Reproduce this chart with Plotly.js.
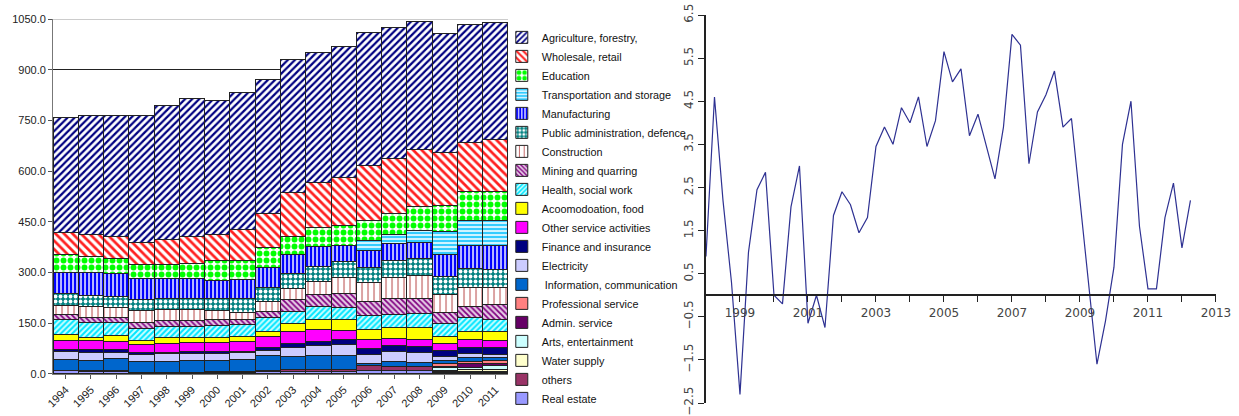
<!DOCTYPE html>
<html>
<head>
<meta charset="utf-8">
<script src="https://cdn.plot.ly/plotly-3.0.1.min.js"></script>
<style>
html, body {margin:0; padding:0; background:#fff;}
#chart {width:1239px; height:416px;}
</style>
</head>
<body>
<div id="chart"></div>
<script>
// years of the stacked bars
var years = ['1994','1995','1996','1997','1998','1999','2000','2001','2002','2003',
             '2004','2005','2006','2007','2008','2009','2010','2011'];

// sectors, bottom of the stack first
var realEstate    = [10,7,7,4,4,4,4,5,8,6,6,6,10,10,10,3,5,4];
var others        = [0,2,3,1,1,1,2,1,3,6,6,6,14,11,12,3,3,4];
var waterSupply   = [0,0,0,0,0,0,0,0,0,0,0,0,0,0,0,5,4,6];
var arts          = [0,0,0,0,0,0,0,0,0,0,0,0,0,0,0,7,8,10];
var adminService  = [0,0,0,0,0,0,0,0,0,0,0,0,0,0,0,4,10,6];
var professional  = [0,0,0,0,0,0,0,0,0,0,0,0,0,0,0,8,8,9];
var information   = [32,31,35,32,33,35,34,36,44,41,44,44,6,15,11,10,10,11];
var electricity   = [24,25,20,20,22,22,22,21,15,26,27,30,29,30,30,12,12,7];
var finance       = [6,7,7,7,5,5,4,4,8,12,13,15,17,19,18,16,18,21];
var otherService  = [28,26,25,23,26,26,27,28,32,34,36,29,27,20,20,21,23,21];
var accomodation  = [17,11,17,12,17,15,15,15,17,25,28,30,29,33,37,23,25,26];
var health        = [45,44,38,37,32,32,34,35,40,34,39,37,40,37,41,36,40,35];
var mining        = [15,15,14,16,18,18,18,15,18,35,35,40,42,47,45,35,34,47];
var construction  = [27,32,32,35,32,32,29,22,28,34,39,48,56,64,66,51,55,49];
var publicAdmin   = [33,33,32,32,32,32,33,42,42,45,44,49,46,49,52,55,58,54];
var manufacturing = [63,67,68,63,61,61,55,56,59,54,60,46,49,50,46,63,66,69];
var transport     = [0,0,0,0,0,0,0,0,0,0,0,0,31,28,35,69,74,76];
var education     = [52,48,45,42,42,44,58,57,60,56,57,58,59,62,72,76,86,84];
var wholesale     = [66,65,65,66,73,81,78,91,102,129,132,143,163,162,168,159,145,155];
var agriculture   = [340,353,358,374,395,406,397,404,394,392,384,389,392,388,379,351,351,345];

// quarterly growth, starting 1998 Q1
var startYear = 1998;
var growth = [0.9,4.6,2.2,0.3,-2.3,1.0,2.45,2.85,0.0,-0.2,2.05,3.0,-0.65,0.0,-0.75,1.85,
              2.4,2.1,1.45,1.8,3.45,3.9,3.5,4.35,4.0,4.6,3.45,4.05,5.65,4.95,5.25,3.7,
              4.2,3.45,2.7,3.9,6.05,5.8,3.05,4.25,4.65,5.2,3.9,4.1,2.2,0.3,-1.6,-0.6,
              0.65,3.5,4.5,1.6,0.15,0.15,1.8,2.6,1.1,2.2];
var lineYears = [1998,1999,2000,2001,2002,2003,2004,2005,2006,2007,2008,2009,2010,2011,2012,2013];
var lineLabels = ['','1999','','2001','','2003','','2005','','2007','','2009','','2011','','2013'];

function bar(name, vals, color, pat){
	var m = {color: color, line: {color: '#222', width: 1}};
	if(pat){
		m.pattern = pat;
	}
	return {
		type: 'bar',
		name: name,
		x: years,
		y: vals,
		marker: m,
		xaxis: 'x',
		yaxis: 'y'
	};
}

var data = [
	bar('Real estate', realEstate, '#9999ff'),
	bar('others', others, '#993366'),
	bar('Water supply', waterSupply, '#ffffcc'),
	bar('Arts, entertainment', arts, '#ccffff'),
	bar('Admin. service', adminService, '#660066'),
	bar('Professional service', professional, '#ff8080'),
	bar(' Information, communication', information, '#0066cc'),
	bar('Electricity', electricity, '#ccccff'),
	bar('Finance and insurance', finance, '#000080'),
	bar('Other service activities', otherService, '#ff00ff'),
	bar('Acoomodoation, food', accomodation, '#ffff00'),
	bar('Health, social work', health, '#ccffff',
		{shape: '/', fgcolor: '#00e5ff', bgcolor: '#ccffff', size: 4, solidity: 0.5}),
	bar('Mining and quarring', mining, '#cc99cc',
		{shape: '\\', fgcolor: '#800080', bgcolor: '#e6cce6', size: 4, solidity: 0.45}),
	bar('Construction', construction, '#ffffff',
		{shape: '|', fgcolor: '#b03030', bgcolor: '#ffffff', size: 6, solidity: 0.15}),
	bar('Public administration, defence', publicAdmin, '#008080',
		{shape: '.', fgcolor: '#ffffff', bgcolor: '#008080', size: 5, solidity: 0.45}),
	bar('Manufacturing', manufacturing, '#0000ff',
		{shape: '|', fgcolor: '#0000ff', bgcolor: '#ccccff', size: 4, solidity: 0.55}),
	bar('Transportation and storage', transport, '#33ccff',
		{shape: '-', fgcolor: '#33ccff', bgcolor: '#e0f8ff', size: 4, solidity: 0.55}),
	bar('Education', education, '#00ff00',
		{shape: '.', fgcolor: '#00ff00', bgcolor: '#ffffff', size: 7, solidity: 0.55}),
	bar('Wholesale, retail', wholesale, '#ff0000',
		{shape: '\\', fgcolor: '#ff2020', bgcolor: '#ffffff', size: 6, solidity: 0.45}),
	bar('Agriculture, forestry,', agriculture, '#000080',
		{shape: '/', fgcolor: '#000080', bgcolor: '#ffffff', size: 5, solidity: 0.45})
];

// growth line on the right
var quarters = [];
for(var i = 0; i < growth.length; i++){
	quarters.push(startYear + i / 4);
}
data.push({
	type: 'scatter',
	mode: 'lines',
	x: quarters,
	y: growth,
	line: {color: '#2e3192', width: 1.2},
	showlegend: false,
	xaxis: 'x2',
	yaxis: 'y2'
});

var tickFont = {family: 'Liberation Sans, Arial, sans-serif', size: 11, color: '#222'};
var rightFont = {family: 'DejaVu Sans, sans-serif', size: 12, color: '#444'};

var layout = {
	width: 1239,
	height: 416,
	margin: {l: 0, r: 0, t: 0, b: 0},
	paper_bgcolor: '#fff',
	plot_bgcolor: 'rgba(0,0,0,0)',
	barmode: 'stack',
	bargap: 0,
	showlegend: true,
	legend: {
		x: 0.405,
		y: 0.945,
		xanchor: 'left',
		yanchor: 'top',
		traceorder: 'reversed',
		itemwidth: 30,
		font: {family: 'Liberation Sans, Arial, sans-serif', size: 10.8, color: '#111'},
		bgcolor: 'rgba(0,0,0,0)'
	},
	xaxis: {
		domain: [0.0428, 0.41],
		type: 'category',
		tickangle: -45,
		ticks: 'outside',
		ticklen: 4,
		tickcolor: '#555',
		showline: true,
		linecolor: '#777',
		showgrid: false,
		tickfont: tickFont,
		anchor: 'y'
	},
	yaxis: {
		domain: [0.101, 0.9543],
		range: [0, 1050],
		tickvals: [0, 150, 300, 450, 600, 750, 900, 1050],
		tickformat: '.1f',
		ticks: 'outside',
		ticklen: 4,
		tickcolor: '#555',
		showline: true,
		linecolor: '#777',
		showgrid: true,
		gridcolor: '#222',
		zeroline: false,
		tickfont: tickFont,
		anchor: 'x'
	},
	xaxis2: {
		domain: [0.5698, 0.9814],
		range: [1998, 2013],
		anchor: 'free',
		position: 0.2906,
		tickmode: 'array',
		tickvals: lineYears,
		ticktext: lineLabels,
		ticks: 'outside',
		ticklen: 6,
		tickcolor: '#222',
		showline: true,
		linecolor: '#222',
		linewidth: 2,
		showgrid: false,
		zeroline: false,
		tickfont: rightFont
	},
	yaxis2: {
		domain: [0.0312, 0.9639],
		range: [-2.5, 6.5],
		tick0: 0.5,
		dtick: 1,
		tickformat: '.1f',
		tickangle: -90,
		ticks: 'outside',
		ticklen: 6,
		tickcolor: '#222',
		showline: true,
		linecolor: '#222',
		linewidth: 2,
		showgrid: false,
		zeroline: false,
		anchor: 'x2',
		tickfont: rightFont
	},
	shapes: [{
		type: 'line', xref: 'paper', yref: 'y',
		x0: 0.0428, x1: 0.41, y0: 1050, y1: 1050,
		line: {color: '#cccccc', width: 2},
		layer: 'above'
	}]
};

Plotly.newPlot('chart', data, layout, {displayModeBar: false, staticPlot: true});
</script>
</body>
</html>
